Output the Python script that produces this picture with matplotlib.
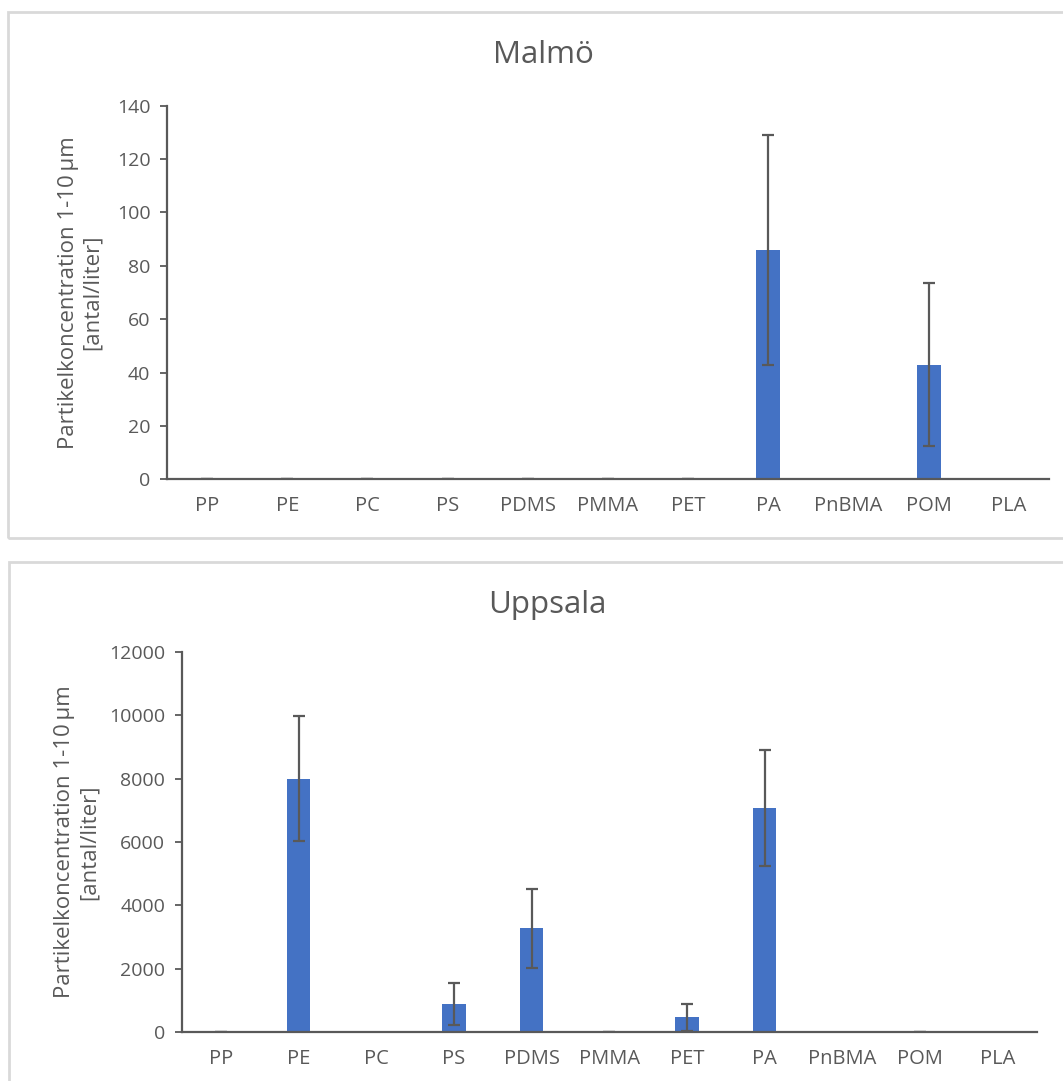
import numpy as np
import matplotlib
matplotlib.use('Agg')
import matplotlib.pyplot as plt
from matplotlib.patches import Rectangle

plt.rcParams['font.family'] = ['Open Sans', 'DejaVu Sans']

categories = ['PP', 'PE', 'PC', 'PS', 'PDMS', 'PMMA', 'PET', 'PA', 'PnBMA', 'POM', 'PLA']

# Malmö, particles 1-10 um per liter (None = no error bar drawn)
malmo_values = [0, 0, 0, 0, 0, 0, 0, 86, 0, 43, 0]
malmo_errors = [0, 0, 0, 0, 0, 0, 0, 43, None, 30.5, None]

# Uppsala
uppsala_values = [0, 8000, 0, 900, 3280, 0, 475, 7060, 0, 0, 0]
uppsala_errors = [0, 1970, None, 670, 1240, 0, 430, 1830, None, 0, None]

bar_color = '#4472C4'
grey = '#595959'
ylabel = 'Partikelkoncentration 1-10\u2009\u00b5m\n[antal/liter]'


def draw_panel(ax, title, values, errors, ymax, ystep, title_xy, labelpad):
  x = np.arange(len(categories))
  err = np.array([np.nan if e is None else e for e in errors], dtype=float)
  ax.bar(x, values, width=0.3, color=bar_color, zorder=2)
  ax.errorbar(x, values, yerr=err, fmt='none', ecolor=grey, elinewidth=1.6,
              capsize=4.5, capthick=1.6, zorder=3)
  ax.set_xlim(-0.5, len(categories) - 0.5)
  ax.set_ylim(0, ymax)
  ax.set_yticks(np.arange(0, ymax + 1, ystep))
  ax.set_xticks(x)
  ax.set_xticklabels(categories)
  for s in ['top', 'right']:
    ax.spines[s].set_visible(False)
  for s in ['left', 'bottom']:
    ax.spines[s].set_color(grey)
    ax.spines[s].set_linewidth(1.6)
  ax.tick_params(axis='x', length=0, pad=12, labelsize=14.5, labelcolor=grey)
  ax.tick_params(axis='y', length=5, width=1.3, color=grey, pad=7,
                 labelsize=14, labelcolor=grey)
  ax.set_ylabel(ylabel, fontsize=16, color=grey, linespacing=1.2,
                labelpad=labelpad)
  ax.figure.text(title_xy[0], title_xy[1], title, fontsize=22.5, color=grey,
                 ha='center', va='center')


fig = plt.figure(figsize=(10.63, 10.81), dpi=100)

# panel frames
fig.patches.append(Rectangle((8 / 1063, 1 - 538 / 1081), 1.0, 526 / 1081,
                             transform=fig.transFigure, fill=False,
                             edgecolor='#d9d9d9', linewidth=2))
fig.patches.append(Rectangle((9 / 1063, -0.01), 1.0, 1 - 562 / 1081 + 0.01,
                             transform=fig.transFigure, fill=False,
                             edgecolor='#d9d9d9', linewidth=2))

ax1 = fig.add_axes([0.1571, 0.5566, 0.8297, 0.3456])
draw_panel(ax1, 'Malmö', malmo_values, malmo_errors, 140, 20, (0.511, 0.949), 10)

ax2 = fig.add_axes([0.1712, 0.0450, 0.8041, 0.3521])
draw_panel(ax2, 'Uppsala', uppsala_values, uppsala_errors, 12000, 2000,
           (0.515, 0.440), 7)

fig.savefig('out.png', dpi=100)
